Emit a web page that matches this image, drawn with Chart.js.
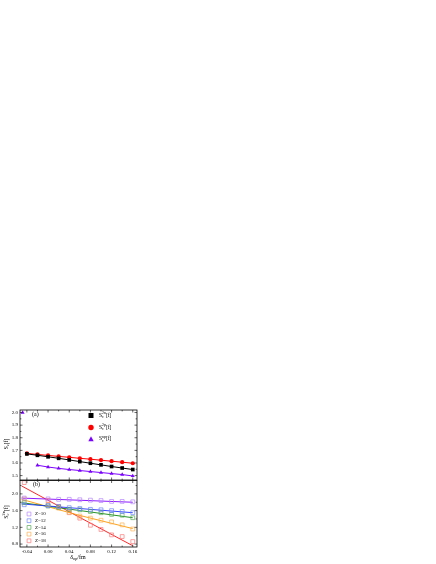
<!DOCTYPE html>
<html>
<head>
<meta charset="utf-8">
<script src="https://cdn.jsdelivr.net/npm/chart.js@4.4.1/dist/chart.umd.min.js"></script>
<style>
  body { margin: 0; background: #fff; }
  canvas { position: absolute; left: 0; top: 0; }
</style>
</head>
<body>
<canvas id="chartA" width="436" height="564"></canvas>
<canvas id="chartB" width="436" height="564"></canvas>
<script>
'use strict';
// panel (a)
let xA = [-0.04, -0.02, 0.00, 0.02, 0.04, 0.06, 0.08, 0.10, 0.12, 0.14, 0.16];
let sc2n = [1.672, 1.661, 1.649, 1.637, 1.624, 1.611, 1.598, 1.585, 1.572, 1.560, 1.548];
let sc2p = [1.676, 1.668, 1.660, 1.652, 1.645, 1.637, 1.630, 1.622, 1.614, 1.606, 1.598];
let xLam = [-0.02, 0.00, 0.02, 0.04, 0.06, 0.08, 0.10, 0.12, 0.14, 0.16];
let scLam = [1.582, 1.568, 1.557, 1.548, 1.540, 1.532, 1.524, 1.516, 1.508, 1.497];
let xLamOut = [-0.048];
let scLamOut = [2.0];

// panel (b)
let zLabels = ['Z=10', 'Z=12', 'Z=14', 'Z=16', 'Z=18'];
let xB = [-0.045, 0.00, 0.02, 0.04, 0.06, 0.08, 0.10, 0.12, 0.14, 0.16];
let scZ10 = [1.90, 1.88, 1.87, 1.87, 1.86, 1.85, 1.84, 1.82, 1.82, 1.81];
let scZ12 = [1.74, 1.72, 1.70, 1.67, 1.65, 1.63, 1.62, 1.60, 1.58, 1.55];
let scZ14 = [1.79, 1.71, 1.68, 1.63, 1.62, 1.58, 1.55, 1.51, 1.49, 1.43];
let scZ16 = [1.88, 1.74, 1.66, 1.56, 1.47, 1.42, 1.37, 1.33, 1.26, 1.16];
let scZ18 = [2.27, 1.84, 1.70, 1.55, 1.42, 1.25, 1.15, 1.02, 0.98, 0.86];
let fitX = [-0.05, 0.055, 0.16];
let fitZ10 = [1.90, 1.85, 1.80];
let fitZ12 = [1.76, 1.655, 1.55];
let fitZ14 = [1.79, 1.61, 1.43];
let fitZ16 = [1.87, 1.50, 1.17];
let fitZ18 = [2.19, 1.47, 0.76];

let xTicks = [-0.04, 0.00, 0.04, 0.08, 0.12, 0.16];
let yTicksA = [1.5, 1.6, 1.7, 1.8, 1.9, 2.0];
let yTicksB = [0.8, 1.2, 1.6, 2.0];

let lineColors = ['#8000ff', '#2233ff', '#118811', '#ff9900', '#ff1111'];
let markColors = ['#b585ff', '#6f86ff', '#55aa55', '#ffb050', '#ff7777'];

const FONT = '"Liberation Serif", "Times New Roman", serif';

function pts(xs, ys) {
    return xs.map((x, i) => ({ x: x, y: ys[i] }));
}

// text with sub/superscripts: parts = [[text, 'n'|'b'|'p'], ...]
function layoutRich(ctx, parts, size) {
    let out = [];
    let x = 0;
    let subStart = null;
    let subEnd = 0;
    for (let [t, m] of parts) {
        let sz = m === 'n' ? size : size * 0.7;
        ctx.font = sz + 'px ' + FONT;
        let w = ctx.measureText(t).width;
        if (m === 'p' && subStart !== null) {
            out.push({ t: t, x: subStart, dy: -size * 0.4, sz: sz });
            x = Math.max(subEnd, subStart + w);
            subStart = null;
            continue;
        }
        let dy = m === 'b' ? size * 0.3 : (m === 'p' ? -size * 0.4 : 0);
        out.push({ t: t, x: x, dy: dy, sz: sz });
        if (m === 'b') { subStart = x; subEnd = x + w; } else { subStart = null; }
        x += w;
    }
    return { out: out, width: x };
}

function drawRich(ctx, parts, x, y, size, align) {
    let lay = layoutRich(ctx, parts, size);
    let x0 = align === 'center' ? x - lay.width / 2 : x;
    ctx.fillStyle = '#000';
    ctx.textAlign = 'left';
    ctx.textBaseline = 'middle';
    for (let p of lay.out) {
        ctx.font = p.sz + 'px ' + FONT;
        ctx.fillText(p.t, x0 + p.x, y + p.dy);
    }
}

function marker(ctx, style, x, y, r, color, filled) {
    ctx.beginPath();
    if (style === 'rect') {
        ctx.rect(x - r, y - r, 2 * r, 2 * r);
    } else if (style === 'circle') {
        ctx.arc(x, y, r, 0, Math.PI * 2);
    } else {
        ctx.moveTo(x, y - r);
        ctx.lineTo(x + r, y + r * 0.8);
        ctx.lineTo(x - r, y + r * 0.8);
        ctx.closePath();
    }
    if (filled) {
        ctx.fillStyle = color;
        ctx.fill();
    } else {
        ctx.strokeStyle = color;
        ctx.lineWidth = 0.7;
        ctx.stroke();
    }
}

// box and inward ticks on all four sides
function drawFrame(chart, yMajor, yStep) {
    let ctx = chart.ctx;
    let a = chart.chartArea;
    let sx = chart.scales.x;
    let sy = chart.scales.y;
    ctx.save();
    ctx.strokeStyle = '#000';
    ctx.lineWidth = 0.8;
    ctx.strokeRect(a.left, a.top, a.right - a.left, a.bottom - a.top);
    ctx.lineWidth = 0.6;
    ctx.beginPath();
    for (let v = -0.04; v <= 0.161; v += 0.02) {
        let px = sx.getPixelForValue(v);
        let major = Math.abs(Math.round(v * 100) % 4) === 0;
        let len = major ? 2.5 : 1.4;
        ctx.moveTo(px, a.bottom); ctx.lineTo(px, a.bottom - len);
        ctx.moveTo(px, a.top); ctx.lineTo(px, a.top + len);
    }
    let v0 = yMajor[0] - yStep;
    for (let v = v0; v <= yMajor[yMajor.length - 1] + yStep; v += yStep / 2) {
        if (v < sy.min || v > sy.max) continue;
        let py = sy.getPixelForValue(v);
        let k = Math.round((v - v0) / (yStep / 2));
        let len = k % 2 === 0 ? 2.5 : 1.4;
        ctx.moveTo(a.left, py); ctx.lineTo(a.left + len, py);
        ctx.moveTo(a.right, py); ctx.lineTo(a.right - len, py);
    }
    ctx.stroke();
    ctx.restore();
}

function baseOptions(padding, yMin, yMax, yTicks, digits, xHeight, showX) {
    return {
        responsive: false,
        animation: false,
        layout: { padding: padding },
        plugins: { legend: { display: false }, tooltip: { enabled: false } },
        scales: {
            x: {
                type: 'linear',
                min: -0.053,
                max: 0.168,
                grid: { display: false, drawTicks: false, tickLength: 0 },
                border: { display: false },
                afterBuildTicks: s => { s.ticks = xTicks.map(v => ({ value: v })); },
                afterFit: s => { s.height = xHeight; },
                ticks: {
                    display: showX,
                    padding: 1.5,
                    maxRotation: 0,
                    autoSkip: false,
                    color: '#000',
                    font: { family: FONT, size: 5 },
                    callback: v => v.toFixed(2)
                }
            },
            y: {
                min: yMin,
                max: yMax,
                grid: { display: false, drawTicks: false, tickLength: 0 },
                border: { display: false },
                afterBuildTicks: s => { s.ticks = yTicks.map(v => ({ value: v })); },
                afterFit: s => { s.width = 20; },
                ticks: {
                    padding: 2,
                    color: '#000',
                    font: { family: FONT, size: 5 },
                    callback: v => v.toFixed(digits)
                }
            }
        }
    };
}

// ---- chart (a)
let optsA = baseOptions({ left: 0, top: 410, right: 299, bottom: 84 }, 1.465, 2.02, yTicksA, 1, 0, false);
let legendA = [
    { style: 'rect', color: '#000', sup: '2n', y: 415.5 },
    { style: 'circle', color: '#ff0000', sup: '2p', y: 427.5 },
    { style: 'triangle', color: '#7a00ff', sup: 'np', y: 439 }
];
let chartA = new Chart(document.getElementById('chartA'), {
    type: 'scatter',
    data: {
        datasets: [{
            data: pts(xA, sc2n), showLine: true, borderColor: '#000', backgroundColor: '#000',
            borderWidth: 1, pointStyle: 'rect', pointRadius: 2.6, pointBorderWidth: 0
        }, {
            data: pts(xA, sc2p), showLine: true, borderColor: '#ff0000', backgroundColor: '#ff0000',
            borderWidth: 1, pointStyle: 'circle', pointRadius: 2.1, pointBorderWidth: 0
        }, {
            data: pts(xLam, scLam), showLine: true, borderColor: '#7a00ff', backgroundColor: '#7a00ff',
            borderWidth: 1, pointStyle: 'triangle', pointRadius: 2.3, pointBorderWidth: 0
        }, {
            data: pts(xLamOut, scLamOut), showLine: false, backgroundColor: '#7a00ff',
            pointStyle: 'triangle', pointRadius: 2.3, pointBorderWidth: 0
        }]
    },
    options: optsA,
    plugins: [{
        id: 'decorA',
        afterDraw(chart) {
            let ctx = chart.ctx;
            drawFrame(chart, yTicksA, 0.1);
            ctx.save();
            drawRich(ctx, [['(a)', 'n']], 32, 414.5, 6, 'left');
            for (let item of legendA) {
                marker(ctx, item.style, 91, item.y, item.style === 'rect' ? 2.5 : 2.7, item.color, true);
                drawRich(ctx, [['S', 'n'], ['c', 'b'], [item.sup, 'p'], ['[f]', 'n']], 99, item.y, 5.5, 'left');
            }
            ctx.translate(6, 444);
            ctx.rotate(-Math.PI / 2);
            drawRich(ctx, [['S', 'n'], ['c', 'b'], ['[f]', 'n']], 0, 0, 6, 'center');
            ctx.restore();
        }
    }]
});

// ---- chart (b)
let optsB = baseOptions({ left: 0, top: 480.5, right: 299, bottom: 0 }, 0.73, 2.32, yTicksB, 1, 17, true);
let fitSets = [fitZ10, fitZ12, fitZ14, fitZ16, fitZ18];
let markSets = [scZ10, scZ12, scZ14, scZ16, scZ18];
let datasetsB = [];
for (let i = 0; i < zLabels.length; i++) {
    datasetsB.push({
        label: zLabels[i], data: pts(xB, markSets[i]), showLine: false,
        pointStyle: 'rect', pointRadius: 2.7, borderColor: markColors[i],
        backgroundColor: 'rgba(0,0,0,0)', pointBorderWidth: 0.7
    });
}
for (let i = 0; i < zLabels.length; i++) {
    datasetsB.push({
        data: pts(fitX, fitSets[i]), showLine: true, borderColor: lineColors[i],
        borderWidth: 0.9, pointRadius: 0
    });
}
let chartB = new Chart(document.getElementById('chartB'), {
    type: 'scatter',
    data: { datasets: datasetsB },
    options: optsB,
    plugins: [{
        id: 'decorB',
        afterDraw(chart) {
            let ctx = chart.ctx;
            drawFrame(chart, yTicksB, 0.4);
            ctx.save();
            drawRich(ctx, [['(b)', 'n']], 33, 484.5, 6, 'left');
            for (let i = 0; i < zLabels.length; i++) {
                let y = 514 + i * 6.7;
                marker(ctx, 'rect', 29, y, 1.9, markColors[i], false);
                drawRich(ctx, [[zLabels[i], 'n']], 35, y, 5, 'left');
            }
            drawRich(ctx, [['δ', 'n'], ['np', 'b'], ['/fm', 'n']], 78, 557.5, 6, 'center');
            ctx.translate(6, 512);
            ctx.rotate(-Math.PI / 2);
            drawRich(ctx, [['S', 'n'], ['c', 'b'], ['2n', 'p'], ['[f]', 'n']], 0, 0, 6, 'center');
            ctx.restore();
        }
    }]
});
</script>
</body>
</html>
